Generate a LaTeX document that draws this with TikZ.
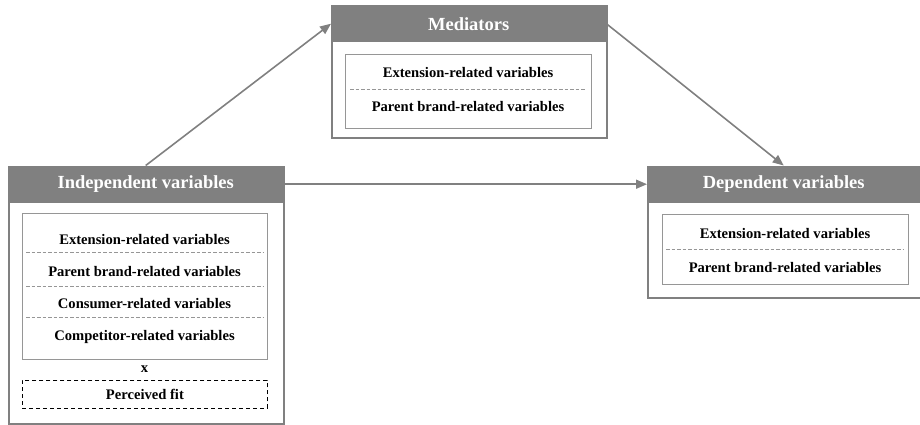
\documentclass[tikz,border=0pt]{standalone}
\usepackage{fontspec}
\setmainfont{Liberation Serif}
\usetikzlibrary{arrows.meta,positioning}
\definecolor{boxgray}{RGB}{128,128,128}
\definecolor{linegray}{RGB}{150,150,150}

\begin{document}
\begin{tikzpicture}[x=1pt, y=-1pt,
  outer/.style={rectangle, draw=boxgray, line width=2pt, anchor=north west, inner sep=0pt},
  header/.style={rectangle, fill=boxgray, text=white, anchor=north west, inner sep=0pt,
    minimum height=37pt, font=\bfseries\fontsize{18.5}{20}\selectfont},
  inner/.style={rectangle, draw=linegray, line width=0.8pt, anchor=north west, inner sep=0pt},
  item/.style={font=\bfseries\fontsize{14.6}{16}\selectfont, inner sep=1pt},
  sep/.style={draw=linegray, line width=0.8pt, dash pattern=on 3.5pt off 2pt},
  fitbox/.style={rectangle, draw=black, line width=0.8pt, dash pattern=on 4pt off 3pt, anchor=north west, inner sep=0pt},
  arrow/.style={draw=boxgray, line width=1.6pt, -{Triangle[length=11pt,width=9pt]}}
]
  \useasboundingbox (0,0) rectangle (920,424);

  % Independent variables
  \node[outer, minimum width=275pt, minimum height=257.5pt] (indbox) at (8,165.5) {};
  \node[header, minimum width=275pt] (indhead) at (8,165.5) {Independent variables};
  \node[inner, minimum width=245pt, minimum height=146pt] (indin) at (22,213) {};
  \node[item] (ind1) at (144.5,239) {Extension-related variables};
  \node[item] (ind2) at (144.5,271) {Parent brand-related variables};
  \node[item] (ind3) at (144.5,304) {Consumer-related variables};
  \node[item] (ind4) at (144.5,337) {Competitor-related variables};
  \draw[sep] (26,252) -- (263,252);
  \draw[sep] (26,286) -- (263,286);
  \draw[sep] (26,317) -- (263,317);
  \node[item] (times) at (144.5,369) {x};
  \node[fitbox, minimum width=245pt, minimum height=28pt] (fitin) at (22,380) {};
  \node[item] (fit) at (fitin.center) {Perceived fit};

  % Mediators
  \node[outer, minimum width=275pt, minimum height=132pt] (medbox) at (331,5) {};
  \node[header, minimum width=275pt] (medhead) at (331,5) {Mediators};
  \node[inner, minimum width=246pt, minimum height=74pt] (medin) at (345,54) {};
  \node[item] (med1) at (468,73) {Extension-related variables};
  \node[item] (med2) at (468,106) {Parent brand-related variables};
  \draw[sep] (350,89) -- (586,89);

  % Dependent variables
  \node[outer, minimum width=273pt, minimum height=131.5pt] (depbox) at (647,165.5) {};
  \node[header, minimum width=273pt] (dephead) at (647,165.5) {Dependent variables};
  \node[inner, minimum width=246pt, minimum height=70pt] (depin) at (662,214) {};
  \node[item] (dep1) at (785,233) {Extension-related variables};
  \node[item] (dep2) at (785,267) {Parent brand-related variables};
  \draw[sep] (666,249) -- (904,249);

  \draw[arrow] (indhead.north) -- (medhead.west);
  \draw[arrow] (medhead.east) -- (dephead.north);
  \draw[arrow] (indhead.east) -- (dephead.west);
\end{tikzpicture}
\end{document}
